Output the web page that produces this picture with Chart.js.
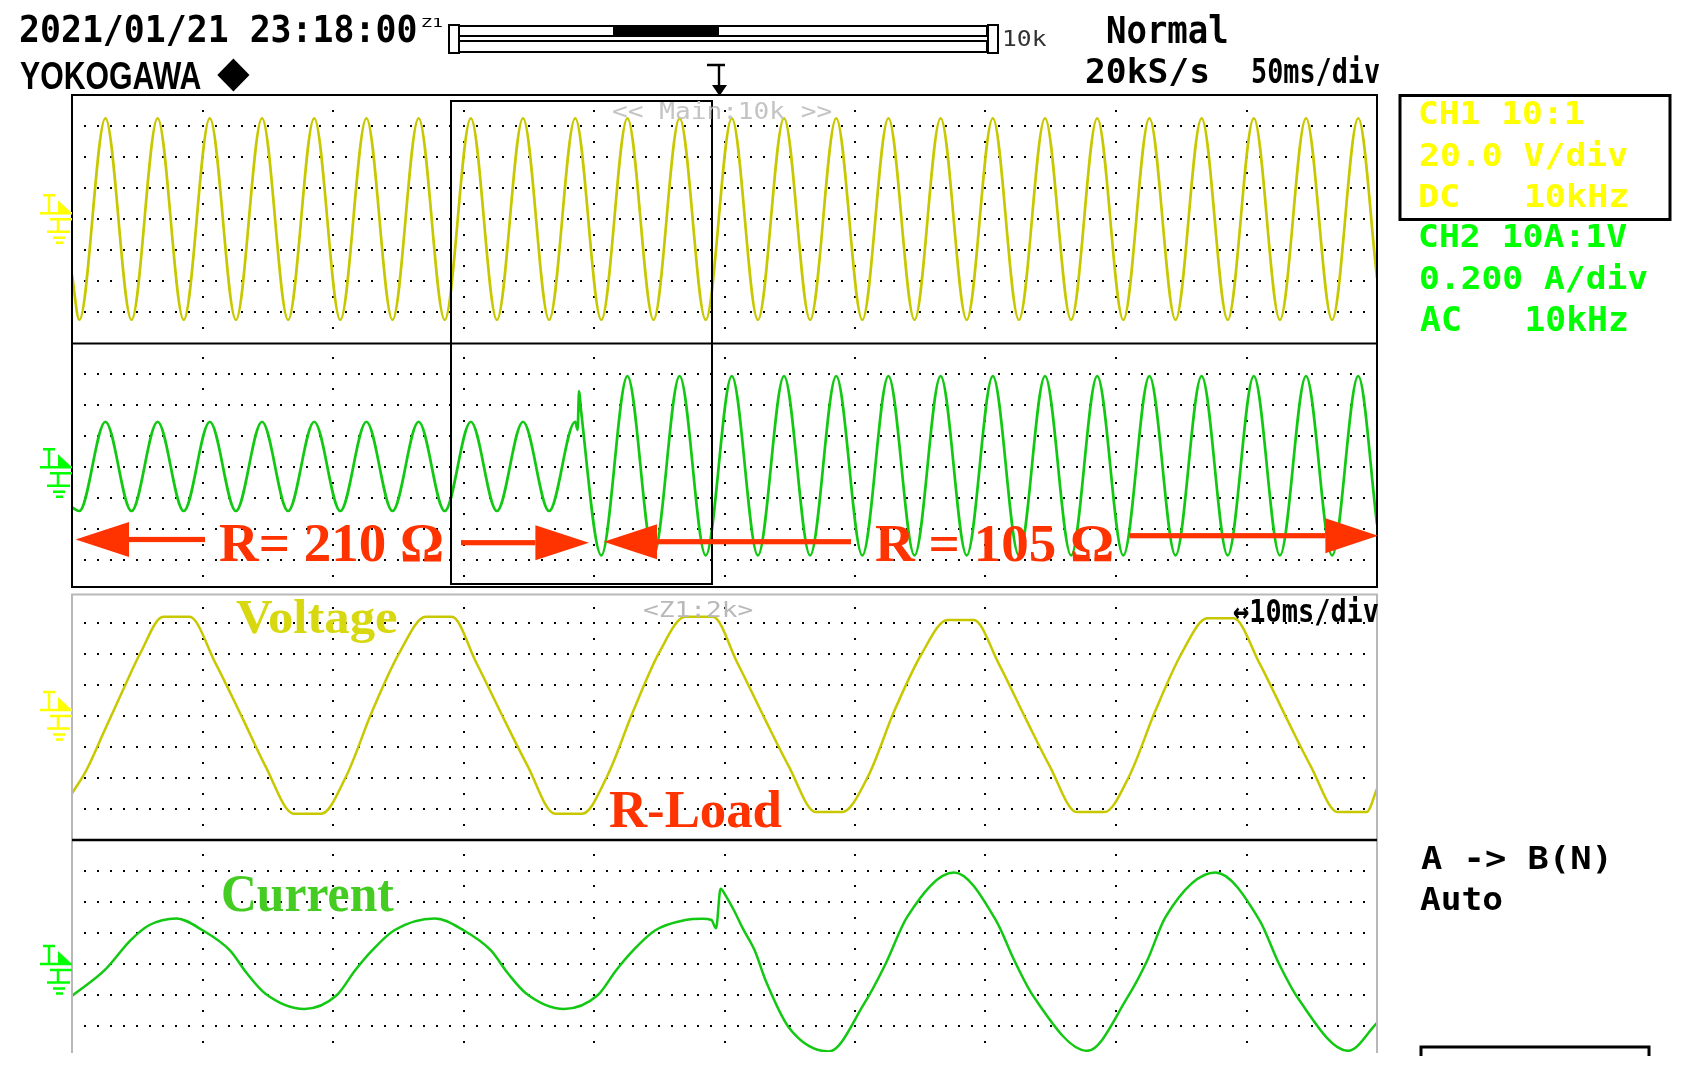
<!DOCTYPE html>
<html>
<head>
<meta charset="utf-8">
<title>R-Load scope capture</title>
<script src="https://cdn.jsdelivr.net/npm/chart.js@4.4.0/dist/chart.umd.min.js"></script>
<style>
  html, body { margin: 0; padding: 0; background: #fff; }
  #page { position: relative; width: 1687px; height: 1080px; overflow: hidden; background: #fff; }
  canvas { position: absolute; }
  #deco { position: absolute; left: 0; top: 0; }
  .t { position: absolute; white-space: pre; transform-origin: 0 0; margin: 0; }
</style>
</head>
<body>
<div id="page">
  <canvas id="mainV" width="1305" height="248" style="left:72px;top:95px"></canvas>
  <canvas id="mainI" width="1305" height="244" style="left:72px;top:343px"></canvas>
  <canvas id="zoomV" width="1305" height="248" style="left:72px;top:592px"></canvas>
  <canvas id="zoomI" width="1305" height="212" style="left:72px;top:840px"></canvas>
  <svg id="deco" width="1687" height="1080"></svg>
</div>
<script>
// Main window : 50 ms/div, 10 div -> 0..500 ms ; y en divisions (8 div par trace)
const mainTime = [0, 2.8, 12.8, 22.8, 32.8, 42.8, 52.8, 62.8, 72.8, 82.8, 92.8, 102.8, 112.8, 122.8,
  132.8, 142.8, 152.8, 162.8, 172.8, 182.8, 192.8, 202.8, 212.8, 222.8, 232.8, 242.8, 252.8, 262.8,
  272.8, 282.8, 292.8, 302.8, 312.8, 322.8, 332.8, 342.8, 352.8, 362.8, 372.8, 382.8, 392.8, 402.8,
  412.8, 422.8, 432.8, 442.8, 452.8, 462.8, 472.8, 482.8, 492.8, 500];
const mainVolt = [-1.8,
  -3.25, 3.25, -3.25, 3.25, -3.25, 3.25, -3.25, 3.25, -3.25, 3.25,
  -3.25, 3.25, -3.25, 3.25, -3.25, 3.25, -3.25, 3.25, -3.25, 3.25,
  -3.25, 3.25, -3.25, 3.25, -3.25, 3.25, -3.25, 3.25, -3.25, 3.25,
  -3.25, 3.25, -3.25, 3.25, -3.25, 3.25, -3.25, 3.25, -3.25, 3.25,
  -3.25, 3.25, -3.25, 3.25, -3.25, 3.25, -3.25, 3.25, -3.25, 3.25,
  -1.9];

const mainTimeI = [0, 2.8, 12.8, 22.8, 32.8, 42.8, 52.8, 62.8, 72.8, 82.8, 92.8, 102.8, 112.8, 122.8,
  132.8, 142.8, 152.8, 162.8, 172.8, 182.8, 192.8, 193.7, 194.3, 195.0,
  202.8, 212.8, 222.8, 232.8, 242.8, 252.8, 262.8, 272.8, 282.8, 292.8, 302.8, 312.8, 322.8, 332.8,
  342.8, 352.8, 362.8, 372.8, 382.8, 392.8, 402.8, 412.8, 422.8, 432.8, 442.8, 452.8, 462.8, 472.8,
  482.8, 492.8, 500];
const mainCurr = [-1.3,
  -1.42, 1.46, -1.42, 1.46, -1.42, 1.46, -1.42, 1.46, -1.42, 1.46,
  -1.42, 1.46, -1.42, 1.46, -1.42, 1.46, -1.42, 1.46, -1.42, 1.46,
  1.2, 2.45, 1.85,
  -2.85, 2.93, -2.85, 2.93, -2.85, 2.93, -2.85, 2.93, -2.85, 2.93,
  -2.85, 2.93, -2.85, 2.93, -2.85, 2.93, -2.85, 2.93, -2.85, 2.93,
  -2.85, 2.93, -2.85, 2.93, -2.85, 2.93, -2.85, 2.93, -2.85, 2.93,
  -1.85];

// Zoom window Z1 : 10 ms/div -> 0..100 ms
const zoomTimeV = [0, 1.1, 2.5, 3.9, 5.2, 7.0, 9.0, 11.0, 13.1, 14.8, 17.0, 19.1, 21.0, 23.0, 25.1,
  27.1, 29.1, 31.0, 33.1, 34.9, 37.0, 39.1, 41.0, 43.0, 45.0, 47.0, 49.1, 51.0, 53.1, 54.9,
  57.0, 59.0, 61.0, 63.0, 65.1, 67.1, 69.1, 71.0, 73.1, 74.9, 77.0, 79.1, 81.0, 83.0, 85.0,
  87.0, 89.0, 91.0, 93.1, 94.9, 97.0, 99.2, 100];
const zoomVolt = [-2.5, -1.75, -0.46, 0.83, 2.0, 3.2, 3.2, 1.7, -0.1, -1.6, -3.15, -3.15, -1.95, 0.15, 2.05,
  3.2, 3.2, 1.7, -0.1, -1.6, -3.15, -3.15, -1.95, 0.15, 2.05, 3.2, 3.2, 1.7, -0.1, -1.6,
  -3.1, -3.1, -1.95, 0.15, 2.0, 3.1, 3.1, 1.7, -0.1, -1.6, -3.1, -3.1, -1.95, 0.15, 2.0,
  3.15, 3.15, 1.7, -0.1, -1.6, -3.1, -3.1, -2.35];

const zoomTimeI = [0, 2.5, 4.5, 5.9, 8.0, 10.0, 12.1, 13.4, 14.8, 17.8, 20.3, 21.7, 23.0, 24.7,
  27.8, 30.0, 32.1, 33.4, 34.8, 37.7, 40.3, 41.7, 43.0, 44.7, 47.0, 48.3, 49.0,
  49.35, 49.7, 50.1, 50.7, 51.4, 52.3, 53.2, 54.9, 58.0, 60.7, 62.35, 64.0, 67.6,
  70.8, 72.2, 73.7, 77.8, 80.9, 82.4, 83.8, 87.6, 91.0, 92.5, 94.0, 97.8, 100];
const zoomCurr = [-1.03, -0.2, 0.77, 1.25, 1.47, 1.09, 0.44, -0.3, -0.95, -1.45, -1.0, -0.2, 0.44, 1.09,
  1.47, 1.09, 0.44, -0.3, -0.95, -1.45, -1.0, -0.2, 0.44, 1.09, 1.42, 1.46, 1.42,
  1.15, 2.43, 2.2, 1.75, 1.15, 0.45, -0.58, -2.03, -2.82, -1.28, 0.01, 1.52, 2.95,
  1.41, 0.12, -1.06, -2.8, -1.06, 0.12, 1.52, 2.95, 1.41, 0.0, -1.14, -2.8, -1.9];

const corJaune = '#c8c800';
const corVerde = '#12c812';

// Pontilhado da grade do osciloscópio (desenhado pelas escalas do gráfico)
const gradePontos = {
  id: 'gradePontos',
  beforeDatasetsDraw(chart, args, opts) {
    const ctx = chart.ctx;
    const sx = chart.scales.x, sy = chart.scales.y;
    const div = opts.div;
    ctx.save();
    ctx.fillStyle = '#000';
    for (let lv = -3; lv <= 3; lv++) {
      if (lv <= sy.min || lv >= sy.max) continue;
      const py = Math.round(sy.getPixelForValue(lv));
      for (let k = 1; k < 100; k++) {
        const px = Math.round(sx.getPixelForValue(k * div / 10));
        ctx.fillRect(px - 1, py - 1, 2, 2);
      }
    }
    for (let d = 1; d < 10; d++) {
      const px = Math.round(sx.getPixelForValue(d * div));
      for (let h = -3.5; h <= 3.5; h += 1) {
        if (h <= sy.min || h >= sy.max) continue;
        const py = Math.round(sy.getPixelForValue(h));
        ctx.fillRect(px - 1, py - 1, 2, 2);
      }
    }
    ctx.restore();
  }
};

function criarTraco(id, tempos, valores, cor, xMax, yMin, espessura) {
  return new Chart(document.getElementById(id), {
    type: 'line',
    data: {
      datasets: [{
        data: tempos.map((t, i) => ({ x: t, y: valores[i] })),
        borderColor: cor,
        borderWidth: espessura,
        pointRadius: 0,
        fill: false,
        cubicInterpolationMode: 'monotone'
      }]
    },
    options: {
      responsive: false,
      animation: false,
      events: [],
      layout: { padding: 0 },
      plugins: { legend: { display: false }, tooltip: { enabled: false }, gradePontos: { div: xMax / 10 } },
      scales: {
        x: { type: 'linear', min: 0, max: xMax, display: false },
        y: { min: yMin, max: 4, display: false }
      }
    },
    plugins: [gradePontos]
  });
}

criarTraco('mainV', mainTime, mainVolt, corJaune, 500, -4, 2.7);
criarTraco('mainI', mainTimeI, mainCurr, corVerde, 500, 4 - 244 / 31, 2.7);
criarTraco('zoomV', zoomTimeV, zoomVolt, corJaune, 100, -4, 2.5);
criarTraco('zoomI', zoomTimeI, zoomCurr, corVerde, 100, 4 - 212 / 31, 2.5);

// Moldura, barra de zoom, marcadores e setas
function terra(L, cor) {
  return `<path d="M43 ${L - 18}H55 M49 ${L - 18}V${L} M40 ${L}H72 M50 ${L + 6}H72 M58 ${L + 6}V${L + 18.5} M47 ${L + 18.5}H70 M53 ${L + 24.5}H65 M56 ${L + 29.5}H63" stroke="${cor}" stroke-width="2.5" fill="none"/>` +
    `<polygon points="58,${L - 13} 58,${L} 72,${L}" fill="${cor}"/>`;
}
function setaEsq(tip, base, fim, y) {
  return `<rect x="${base}" y="${y - 2.6}" width="${fim - base}" height="5.2" fill="#ff3300"/>` +
    `<polygon points="${tip},${y} ${base},${y - 17.5} ${base},${y + 17.5}" fill="#ff3300"/>`;
}
function setaDir(ini, base, tip, y) {
  return `<rect x="${ini}" y="${y - 2.6}" width="${base - ini}" height="5.2" fill="#ff3300"/>` +
    `<polygon points="${tip},${y} ${base},${y - 17.5} ${base},${y + 17.5}" fill="#ff3300"/>`;
}

let svg = '';
// barra de posição do zoom
svg += '<rect x="449" y="25" width="10" height="28" fill="#fff" stroke="#000" stroke-width="2"/>';
svg += '<rect x="459" y="26" width="528" height="10" fill="#fff" stroke="#000" stroke-width="2"/>';
svg += '<rect x="459" y="41" width="528" height="11" fill="#fff" stroke="#000" stroke-width="2"/>';
svg += '<rect x="613" y="26" width="106" height="10" fill="#000"/>';
svg += '<rect x="988" y="25" width="10" height="28" fill="#fff" stroke="#000" stroke-width="2"/>';
// losango YOKOGAWA
svg += '<polygon points="233.4,58.5 249.5,75 233.4,91.5 217.3,75" fill="#000"/>';
// marcador de trigger
svg += '<path d="M707 65H725 M719 65V88" stroke="#000" stroke-width="2.4" fill="none"/>';
svg += '<polygon points="712,85 727,85 719.5,96" fill="#000"/>';
// janela principal
svg += '<rect x="72" y="95" width="1305" height="492" fill="none" stroke="#000" stroke-width="2"/>';
svg += '<line x1="72" y1="343.5" x2="1377" y2="343.5" stroke="#000" stroke-width="2"/>';
svg += '<rect x="451" y="101" width="261" height="483" fill="none" stroke="#000" stroke-width="2"/>';
// janela de zoom
svg += '<path d="M72 1053V594.5H1377V1053" fill="none" stroke="#b8b8b8" stroke-width="2"/>';
svg += '<line x1="72" y1="840" x2="1377" y2="840" stroke="#000" stroke-width="2.5"/>';
// caixa CH1
svg += '<rect x="1400" y="95.5" width="270" height="124" fill="none" stroke="#000" stroke-width="3"/>';
// caixa inferior cortada
svg += '<path d="M1421 1056V1047H1649V1056" fill="none" stroke="#000" stroke-width="3"/>';
// marcadores de terra
svg += terra(213.3, '#ffff00') + terra(467.3, '#00ff00') + terra(710, '#ffff00') + terra(964, '#00ff00');
// setas vermelhas
svg += setaEsq(75.6, 129, 205, 539.5);
svg += setaDir(461, 535.4, 589, 542.7);
svg += setaEsq(603.7, 657, 851, 541.7);
svg += setaDir(1129.6, 1325.4, 1378, 535.7);
document.getElementById('deco').innerHTML = svg;

// Textos
const FONTES = {
  mono: '"DejaVu Sans Mono", "Liberation Mono", monospace',
  sans: '"Liberation Sans", Arial, sans-serif',
  serif: '"Liberation Serif", "Times New Roman", serif'
};
const textos = [
  // [texto, x, topo da maiúscula, altura, largura, fonte, peso, cor]
  ['2021/01/21 23:18:00', 20.4, 15.5, 27.5, 395, 'mono', 'bold', '#000'],
  ['Z1', 421, 19, 8.5, 22, 'mono', 'normal', '#000'],
  ['10k', 1004, 30, 16, 42, 'mono', 'normal', '#333'],
  ['Normal', 1108, 16.7, 26.6, 119, 'mono', 'bold', '#000'],
  ['20kS/s', 1085.6, 58.3, 25, 121.4, 'mono', 'bold', '#000'],
  ['50ms/div', 1252.5, 58.3, 25, 127, 'mono', 'bold', '#000'],
  ['YOKOGAWA', 20.4, 63.3, 26.7, 181, 'sans', 'bold', '#000'],
  ['<< Main:10k >>', 613, 102.5, 17, 218, 'mono', 'normal', '#c4c4c4'],
  ['CH1 10:1', 1420, 101.7, 23.3, 163, 'mono', 'bold', '#ffff00'],
  ['20.0 V/div', 1420, 143.3, 23, 207, 'mono', 'bold', '#ffff00'],
  ['DC   10kHz', 1420, 185, 23, 207, 'mono', 'bold', '#ffff00'],
  ['CH2 10A:1V', 1420, 225, 23, 207, 'mono', 'bold', '#00ff00'],
  ['0.200 A/div', 1420, 267, 23, 227, 'mono', 'bold', '#00ff00'],
  ['AC   10kHz', 1420, 308, 24, 207, 'mono', 'bold', '#00ff00'],
  ['A -> B(N)', 1420.6, 846.7, 23.3, 186, 'mono', 'bold', '#000'],
  ['Auto', 1420, 888, 23, 82, 'mono', 'bold', '#000'],
  ['\u219410ms/div', 1233.5, 598.3, 23.4, 145, 'mono', 'bold', '#000'],
  ['<Z1:2k>', 643, 601, 16, 110, 'mono', 'normal', '#b8b8b8'],
  ['R= 210 \u03A9', 218.5, 526, 35.7, 223, 'serif', 'bold', '#ff3300'],
  ['R = 105 \u03A9', 875, 526.7, 35, 237, 'serif', 'bold', '#ff3300'],
  ['Voltage', 236.3, 601.7, 31.6, 161, 'serif', 'bold', '#d8d810'],
  ['R-Load', 609, 793.3, 35, 173, 'serif', 'bold', '#ff3300'],
  ['Current', 223, 876.7, 35, 171, 'serif', 'bold', '#44cc22']
];

const medidor = document.createElement('canvas').getContext('2d');
const pagina = document.getElementById('page');
textos.forEach(([txt, x, capTop, capH, largura, fonte, peso, cor]) => {
  const fam = FONTES[fonte];
  medidor.font = `${peso} 100px ${fam}`;
  const capRatio = medidor.measureText('H').actualBoundingBoxAscent / 100;
  const size = capH / capRatio;
  medidor.font = `${peso} ${size}px ${fam}`;
  const m = medidor.measureText(txt);
  const tinta = m.actualBoundingBoxLeft + m.actualBoundingBoxRight;
  const s = largura ? largura / tinta : 1;
  const baseTopo = (size - (m.fontBoundingBoxAscent + m.fontBoundingBoxDescent)) / 2 + m.fontBoundingBoxAscent;
  const el = document.createElement('div');
  el.className = 't';
  el.textContent = txt;
  el.style.font = `${peso} ${size}px ${fam}`;
  el.style.lineHeight = size + 'px';
  el.style.color = cor;
  el.style.left = (x + m.actualBoundingBoxLeft * s) + 'px';
  el.style.top = (capTop + capH - baseTopo) + 'px';
  el.style.transform = `scaleX(${s})`;
  pagina.appendChild(el);
});
</script>
</body>
</html>
